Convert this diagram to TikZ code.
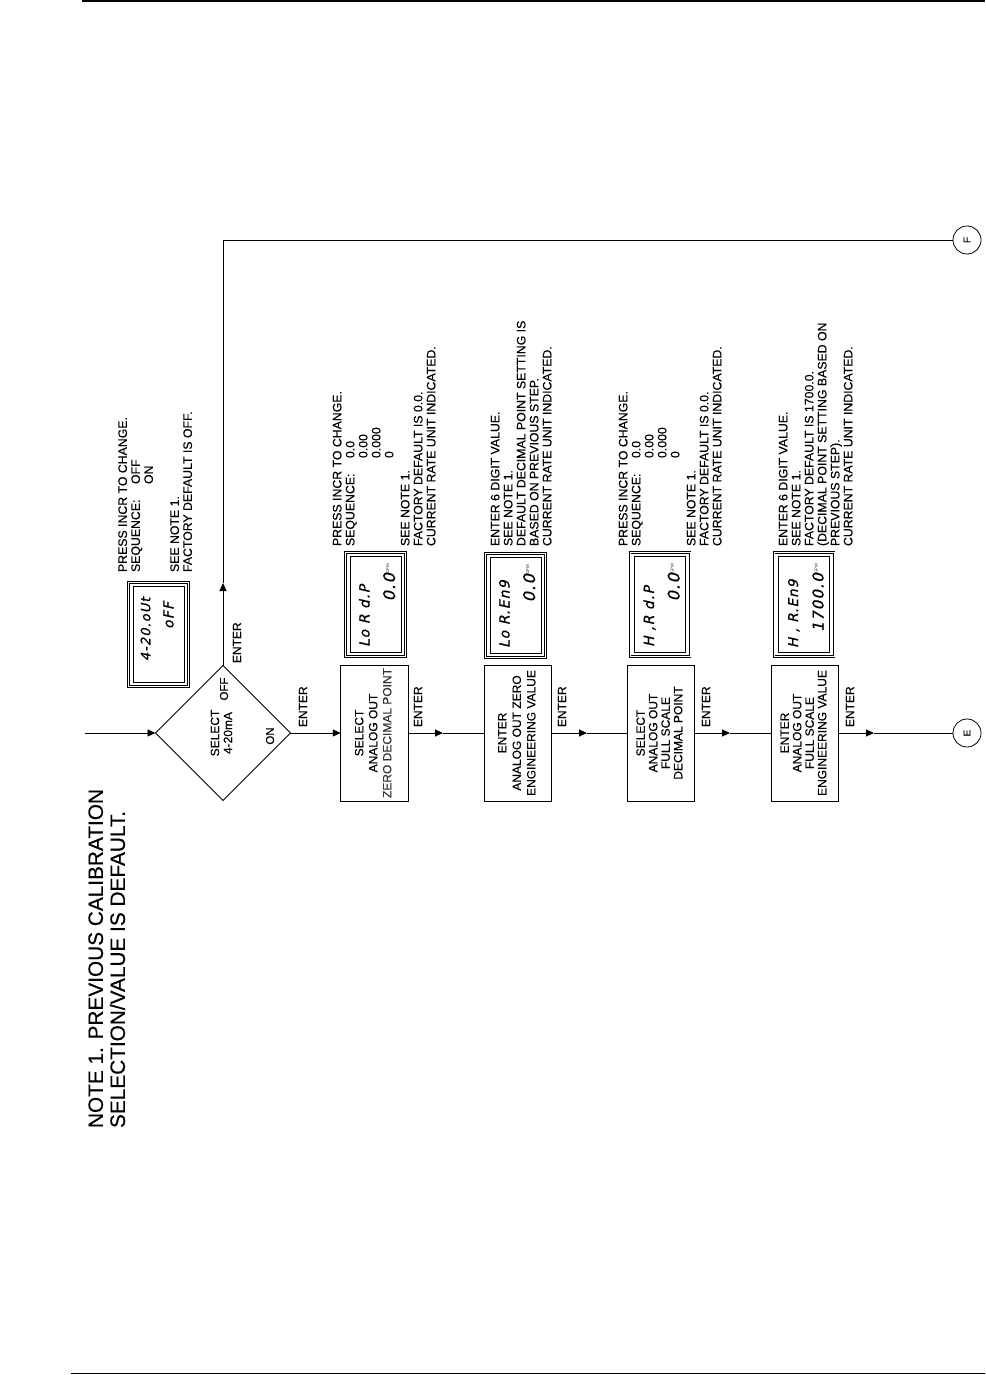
\documentclass[tikz,border=0pt]{standalone}
\usepackage{graphicx}
\usepackage{fontspec}
\setmainfont{Liberation Sans}[FakeBold=0.35]
\newfontfamily\lcdfont[FakeSlant=0.22,FakeBold=0.8,LetterSpace=8]{DejaVu Sans}
\usetikzlibrary{shapes.geometric,arrows.meta}
\newcommand\rtext[2][c]{\rotatebox{90}{\begin{tabular}{@{}#1@{}}#2\end{tabular}}}
\newcommand\unitmark{{\fontfamily{lmss}\fontsize{4}{4}\selectfont\raisebox{6pt}{GPM}}}
\tikzset{
  every node/.style={inner sep=0pt, outer sep=0pt},
  stepbox/.style={draw, line width=0.9pt, minimum width=67.5pt, minimum height=136pt},
  decision/.style={draw, diamond, aspect=1, minimum width=135pt, minimum height=135pt, line width=0.8pt, font=\fontsize{12}{13}\selectfont},
  lcd/.style={draw, double, double distance=0.9pt, line width=0.7pt, minimum width=60pt, minimum height=104pt},
  lcdin/.style={draw, line width=1pt, minimum width=51pt, minimum height=96pt},
  lcdtxt/.style={rotate=90, font=\lcdfont\fontsize{14}{14}\selectfont},
  lcdbig/.style={rotate=90, font=\lcdfont\fontsize{16}{16}\selectfont},
  flow/.style={line width=0.9pt},
  arr/.style={flow, -{Triangle[length=8pt,width=7pt]}},
  conn/.style={draw, circle, minimum size=28pt, line width=0.8pt, font=\fontsize{10}{10}\selectfont},
  lbl/.style={rotate=90, font=\fontsize{12}{13}\selectfont},
  note/.style={anchor=south west, font=\fontsize{12.3}{13}\selectfont},
  rule/.style={line width=2pt}
}
\begin{document}
\begin{tikzpicture}[x=1pt, y=-1pt]
\useasboundingbox (0,0) rectangle (985,1375);
% page rules
\coordinate (tl) at (82,1.5); \coordinate (tr) at (985,1.5);
\coordinate (bl) at (71,1373.5); \coordinate (br) at (985,1373.5);
\draw[rule] (tl) -- (tr);
\draw[line width=1.6pt] (bl) -- (br);

% general note
\node[anchor=south west, font=\fontsize{20.8}{22}\selectfont] (note) at (87.5,1128)
  {\rtext[l]{NOTE 1. PREVIOUS CALIBRATION\\SELECTION/VALUE IS DEFAULT.}};

% flow nodes
\node[decision] (dia) at (223,733) {\rtext{SELECT\\4-20mA}};
\node[stepbox, font=\fontsize{12}{14}\selectfont] (b1) at (374.5,733)
  {\rtext{SELECT\\ANALOG OUT\\{\color{black!80}ZERO DECIMAL POINT}}};
\node[stepbox, font=\fontsize{12}{14.5}\selectfont] (b2) at (518,733)
  {\rtext{ENTER\\ANALOG OUT ZERO\\ENGINEERING VALUE}};
\node[stepbox, font=\fontsize{12}{12.5}\selectfont] (b3) at (661,733)
  {\rtext{SELECT\\ANALOG OUT\\FULL SCALE\\DECIMAL POINT}};
\node[stepbox, font=\fontsize{12}{12.5}\selectfont] (b4) at (805,733)
  {\rtext{ENTER\\ANALOG OUT\\FULL SCALE\\ENGINEERING VALUE}};
\node[conn] (E) at (967,733) {\rotatebox{90}{E}};
\node[conn] (F) at (967,240) {\rotatebox{90}{F}};

% connectors
\coordinate (in) at (85,733);
\coordinate (a1) at (443,733);
\coordinate (a2) at (587,733);
\coordinate (a3) at (730,733);
\coordinate (a4) at (874,733);
\coordinate (up) at (223,583);
\draw[arr] (in) -- (dia.west);
\draw[arr] (dia.east) -- (b1.west);
\draw[arr] (b1.east) -- (a1);
\draw[flow] (a1) -- (b2.west);
\draw[arr] (b2.east) -- (a2);
\draw[flow] (a2) -- (b3.west);
\draw[arr] (b3.east) -- (a3);
\draw[flow] (a3) -- (b4.west);
\draw[arr] (b4.east) -- (a4);
\draw[flow] (a4) -- (E.west);
\draw[arr] (dia.north) -- (up);
\draw[flow] (up) |- (F.west);

% connector labels
\node[lbl, anchor=west] (e0) at (303,727) {ENTER};
\node[lbl, anchor=west] (e1) at (418,727) {ENTER};
\node[lbl, anchor=west] (e2) at (562,727) {ENTER};
\node[lbl, anchor=west] (e3) at (706,727) {ENTER};
\node[lbl, anchor=west] (e4) at (850,727) {ENTER};
\node[lbl, anchor=west] (eup) at (237,663) {ENTER};
\node[lbl, font=\fontsize{11.5}{12}\selectfont] (off) at (224,689) {OFF};
\node[lbl, font=\fontsize{11.5}{12}\selectfont] (on) at (270,736) {ON};

% LCD displays
\node[lcd] (d0) at (158.5,634.5) {}; \node[lcdin] (d0i) at (d0.center) {};
\node[lcd] (d1) at (375.5,604.5) {}; \node[lcdin] (d1i) at (d1.center) {};
\node[lcd] (d2) at (515.5,605.5) {}; \node[lcdin] (d2i) at (d2.center) {};
\node[lcd] (d3) at (660,604.5) {};   \node[lcdin] (d3i) at (d3.center) {};
\node[lcd] (d4) at (804,604.5) {};   \node[lcdin] (d4i) at (d4.center) {};

\node[lcdtxt, anchor=base west, font=\lcdfont\fontsize{13}{13}\selectfont] (d0a) at (150.3,661) {4-20.oUt};
\node[lcdtxt, anchor=base east, font=\lcdfont\fontsize{14}{14}\selectfont] (d0b) at (173.5,602) {oFF};

\node[lcdtxt, anchor=base west] (d1a) at (369.5,647) {Lo R d.P};
\node[lcdbig, anchor=base east] (d1b) at (395,564) {0.0\unitmark};

\node[lcdtxt, anchor=base west] (d2a) at (509.5,648) {Lo R.En9};
\node[lcdbig, anchor=base east] (d2b) at (535,565) {0.0\unitmark};

\node[lcdtxt, anchor=base west] (d3a) at (654,647) {H ,R d.P};
\node[lcdbig, anchor=base east] (d3b) at (679.5,564) {0.0\unitmark};

\node[lcdtxt, anchor=base west, font=\lcdfont\fontsize{13.5}{13.5}\selectfont] (d4a) at (798,648) {H , R.En9};
\node[lcdtxt, anchor=base east, font=\lcdfont\fontsize{15}{15}\selectfont] (d4b) at (823.5,564) {1700.0\unitmark};

% annotations
\node[note] (n0) at (117.8,572) {\rtext[l]{PRESS INCR TO CHANGE.\\
\makebox[88pt][l]{SEQUENCE:}OFF\\
\hspace*{88pt}ON\\
\\
SEE NOTE 1.\\
FACTORY DEFAULT IS OFF.}};

\node[note] (n1) at (332.3,546) {\rtext[l]{PRESS INCR TO CHANGE.\\
\makebox[88pt][l]{SEQUENCE:}0.0\\
\hspace*{88pt}0.00\\
\hspace*{88pt}0.000\\
\hspace*{88pt}0\\[3pt]
SEE NOTE 1.\\
FACTORY DEFAULT IS 0.0.\\
CURRENT RATE UNIT INDICATED.}};

\node[note] (n2) at (490.3,546) {\rtext[l]{ENTER 6 DIGIT VALUE.\\
SEE NOTE 1.\\
DEFAULT DECIMAL POINT SETTING IS\\
BASED ON PREVIOUS STEP.\\
CURRENT RATE UNIT INDICATED.}};

\node[note] (n3) at (618.3,546) {\rtext[l]{PRESS INCR TO CHANGE.\\
\makebox[88pt][l]{SEQUENCE:}0.0\\
\hspace*{88pt}0.00\\
\hspace*{88pt}0.000\\
\hspace*{88pt}0\\[3pt]
SEE NOTE 1.\\
FACTORY DEFAULT IS 0.0.\\
CURRENT RATE UNIT INDICATED.}};

\node[note] (n4) at (778.3,546) {\rtext[l]{ENTER 6 DIGIT VALUE.\\
SEE NOTE 1.\\
FACTORY DEFAULT IS 1700.0.\\
(DECIMAL POINT SETTING BASED ON\\
PREVIOUS STEP).\\
CURRENT RATE UNIT INDICATED.}};
\end{tikzpicture}
\end{document}
